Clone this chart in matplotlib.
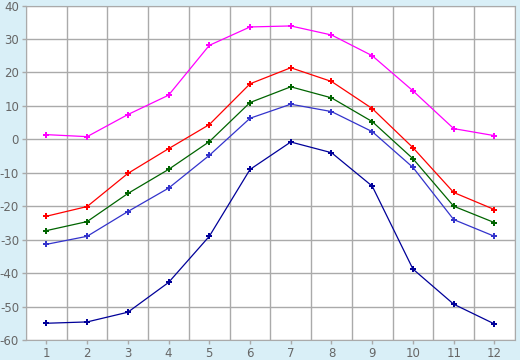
import matplotlib
matplotlib.use("Agg")
import matplotlib.pyplot as plt
import numpy as np

plt.rcParams["axes.unicode_minus"] = False

months = list(range(1, 13))
s_magenta = [1.4, 0.8, 7.4, 13.2, 28.1, 33.6, 33.9, 31.2, 25.0, 14.5, 3.2, 1.1]
s_red = [-23.0, -20.1, -10.2, -2.8, 4.4, 16.6, 21.4, 17.3, 9.2, -2.5, -15.9, -21.0]
s_green = [-27.3, -24.6, -16.2, -9.0, -0.7, 11.0, 15.7, 12.4, 5.3, -5.8, -20.0, -24.9]
s_blue = [-31.4, -29.0, -21.6, -14.6, -4.8, 6.3, 10.5, 8.3, 2.3, -8.4, -24.0, -29.0]
s_navy = [-55.0, -54.6, -51.7, -42.8, -29.0, -9.0, -0.8, -4.0, -14.0, -38.8, -49.3, -55.2]

series = [
    (s_magenta, "#ff00ff"),
    (s_red, "#ff0000"),
    (s_green, "#006400"),
    (s_blue, "#3333cc"),
    (s_navy, "#000099"),
]

bg = "#d9eff7"
grid_c = "#aaaaaa"
text_c = "#666666"

fig = plt.figure(figsize=(5.2, 3.6), dpi=100, facecolor=bg)
ax = fig.add_axes([0.05, 0.0556, 0.940, 0.929])
ax.set_facecolor("white")

for vals, col in series:
    ax.plot(months, vals, color=col, linewidth=0.9, marker="P", markersize=5,
            markeredgewidth=0, zorder=3)

ax.set_xlim(0.5, 12.5)
ax.set_ylim(-60, 40)
ax.set_xticks(months)
ax.set_xticks(np.arange(0.5, 13, 1), minor=True)
ax.set_yticks(range(-60, 41, 10))
ax.grid(True, which="minor", axis="x", color=grid_c, linewidth=1)
ax.grid(True, which="major", axis="y", color=grid_c, linewidth=1)
ax.tick_params(axis="x", which="minor", length=0)
ax.tick_params(axis="both", which="major", colors=grid_c, labelcolor=text_c,
               labelsize=8.5, length=3, width=1, pad=2)
for sp in ax.spines.values():
    sp.set_color(grid_c)

fig.savefig("out.png", dpi=100, facecolor=bg)
